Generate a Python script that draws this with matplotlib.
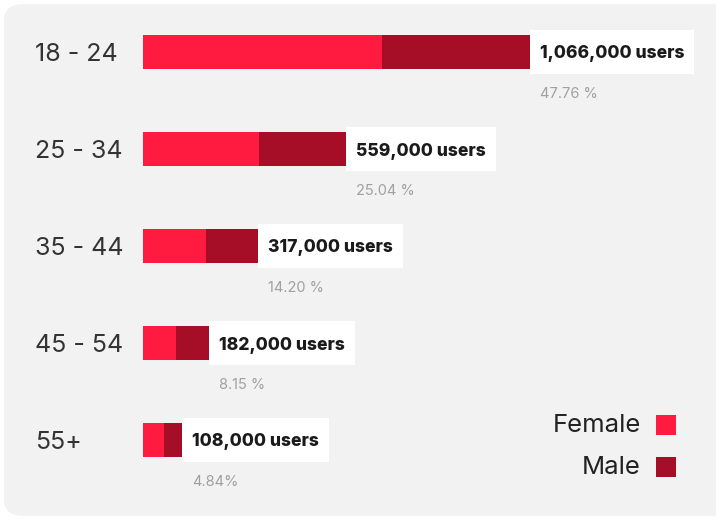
import matplotlib
matplotlib.use("Agg")
import matplotlib.pyplot as plt
from matplotlib.patches import FancyBboxPatch, Rectangle
import matplotlib.transforms as mtransforms

plt.rcParams['font.family'] = ['Inter', 'DejaVu Sans']

# Data (thousands of users)
age_groups = ["18 - 24", "25 - 34", "35 - 44", "45 - 54", "55+"]
female = [658, 320, 174, 91, 57]
male = [408, 239, 143, 91, 51]
total_labels = ["1,066,000 users", "559,000 users", "317,000 users",
                "182,000 users", "108,000 users"]
pct_labels = ["47.76 %", "25.04 %", "14.20 %", "8.15 %", "4.84%"]
series_names = ["Female", "Male"]

FEMALE_C = "#ff1a40"
MALE_C = "#a60d26"
PANEL_C = "#f2f2f2"

W, H = 716, 520
fig = plt.figure(figsize=(W / 100, H / 100), dpi=100)
fig.patch.set_facecolor("white")

# rounded light-gray panel behind everything
panel = FancyBboxPatch((4 / W, 4 / H), (W + 20) / W, (H - 8) / H,
                       boxstyle="round,pad=0,rounding_size=0.03",
                       transform=fig.transFigure, facecolor=PANEL_C,
                       edgecolor="none", zorder=-10)
fig.patches.append(panel)

ax = fig.add_axes([0, 0, 1, 1])
ax.set_zorder(1)
ax.set_facecolor("none")
px_per_k = 0.363
x0_px = 143
ax.set_xlim(-x0_px / px_per_k, (W - x0_px) / px_per_k)
spacing = 97.0
top_px = 52.0
ax.set_ylim((H - top_px) / spacing, -top_px / spacing)
ax.set_autoscale_on(False)
ax.axis("off")

ypos = list(range(len(age_groups)))
bar_h = 34 / spacing
ax.barh(ypos, female, height=bar_h, color=FEMALE_C, zorder=2)
ax.barh(ypos, male, left=female, height=bar_h, color=MALE_C, zorder=2)

label_tr = mtransforms.blended_transform_factory(fig.transFigure, ax.transData)
for y, lab in zip(ypos, age_groups):
    ax.text(35 / W, y, lab, transform=label_tr, ha="left",
            va="center_baseline", fontsize=18, color="#333333")

fig.canvas.draw()
renderer = fig.canvas.get_renderer()

for y, f, m, tl, pl in zip(ypos, female, male, total_labels, pct_labels):
    end = f + m
    end_disp = ax.transData.transform((end, y))
    t = ax.text(end_disp[0] + 10, end_disp[1], tl,
                transform=mtransforms.IdentityTransform(),
                ha="left", va="center_baseline", fontsize=12.6,
                fontweight="heavy", color="#1a1a1a", zorder=4)
    bb = t.get_window_extent(renderer)
    box_w = bb.x1 + 10 - end_disp[0]
    box = Rectangle((end_disp[0], end_disp[1] - 22), box_w, 44,
                    transform=mtransforms.IdentityTransform(),
                    facecolor="white", edgecolor="none", zorder=3)
    ax.add_patch(box)
    ax.text(end_disp[0] + 10, end_disp[1] - 42, pl,
            transform=mtransforms.IdentityTransform(),
            ha="left", va="center", fontsize=10.5, color="#a0a0a0", zorder=4)

# legend: text labels followed by colour squares
for i, (name, col) in enumerate(zip(series_names, [FEMALE_C, MALE_C])):
    yc = H - (425 + 42 * i)
    ax.text(641 / W, yc / H, name, transform=fig.transFigure,
            ha="right", va="center", fontsize=18.5, color="#222222")
    ax.add_patch(Rectangle((656 / W, (yc - 10) / H), 20 / W, 20 / H,
                           transform=fig.transFigure, facecolor=col,
                           edgecolor="none", zorder=3))

fig.savefig("out.png", dpi=100, facecolor=fig.get_facecolor())
